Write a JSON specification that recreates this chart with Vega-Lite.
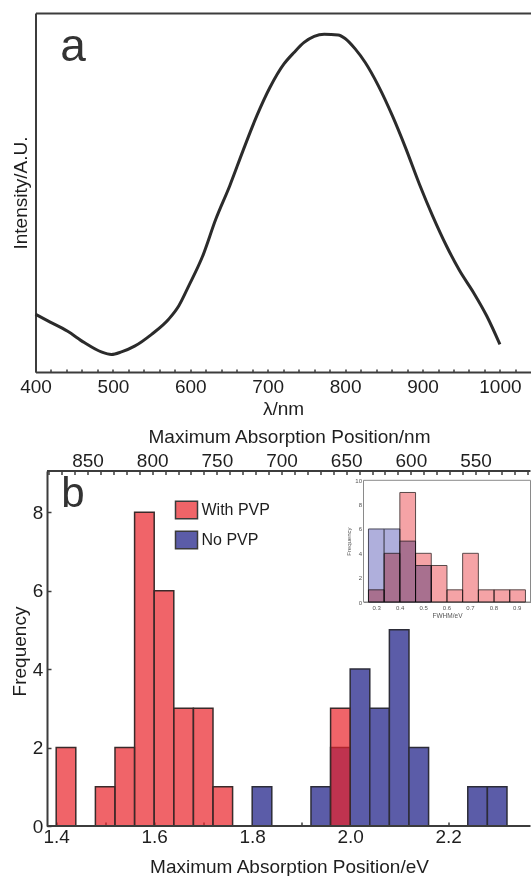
{
  "$schema": "https://vega.github.io/schema/vega-lite/v6.json",
  "padding": {"left": 10.5, "top": 13, "right": 0, "bottom": 0},
  "background": "white",
  "config": {
    "font": "Liberation Sans",
    "view": {"stroke": null},
    "axis": {"grid": false, "domainColor": "#3c3c3c", "domainWidth": 2, "tickColor": "#3c3c3c", "tickWidth": 1.5, "labelColor": "#1e1e1e", "titleColor": "#1e1e1e", "titleFontWeight": "normal", "labelFontSize": 19, "titleFontSize": 19, "labelFlush": false, "labelOverlap": false, "labelFont": "Liberation Sans", "titleFont": "Liberation Sans"}
  },
  "datasets": {
    "spectrum": [
      {"wavelength": 400, "intensity": 0.161}, {"wavelength": 419, "intensity": 0.139}, {"wavelength": 441, "intensity": 0.114},
      {"wavelength": 463, "intensity": 0.082}, {"wavelength": 485, "intensity": 0.056}, {"wavelength": 498, "intensity": 0.049},
      {"wavelength": 511, "intensity": 0.056}, {"wavelength": 528, "intensity": 0.072}, {"wavelength": 550, "intensity": 0.105},
      {"wavelength": 572, "intensity": 0.147}, {"wavelength": 585, "intensity": 0.184}, {"wavelength": 598, "intensity": 0.240},
      {"wavelength": 616, "intensity": 0.323}, {"wavelength": 633, "intensity": 0.426}, {"wavelength": 651, "intensity": 0.519},
      {"wavelength": 668, "intensity": 0.616}, {"wavelength": 686, "intensity": 0.714}, {"wavelength": 703, "intensity": 0.793},
      {"wavelength": 721, "intensity": 0.858}, {"wavelength": 734, "intensity": 0.890}, {"wavelength": 747, "intensity": 0.918},
      {"wavelength": 760, "intensity": 0.935}, {"wavelength": 773, "intensity": 0.941}, {"wavelength": 791, "intensity": 0.939},
      {"wavelength": 800, "intensity": 0.929}, {"wavelength": 813, "intensity": 0.900}, {"wavelength": 826, "intensity": 0.862},
      {"wavelength": 843, "intensity": 0.797}, {"wavelength": 861, "intensity": 0.714}, {"wavelength": 878, "intensity": 0.625},
      {"wavelength": 896, "intensity": 0.523}, {"wavelength": 913, "intensity": 0.435}, {"wavelength": 931, "intensity": 0.351},
      {"wavelength": 948, "intensity": 0.282}, {"wavelength": 966, "intensity": 0.221}, {"wavelength": 983, "intensity": 0.156},
      {"wavelength": 1000, "intensity": 0.077}
    ],
    "peaks": [
      {"series": "With PVP", "start": 1.40, "end": 1.44, "count": 2},
      {"series": "With PVP", "start": 1.48, "end": 1.52, "count": 1},
      {"series": "With PVP", "start": 1.52, "end": 1.56, "count": 2},
      {"series": "With PVP", "start": 1.56, "end": 1.60, "count": 8},
      {"series": "With PVP", "start": 1.60, "end": 1.64, "count": 6},
      {"series": "With PVP", "start": 1.64, "end": 1.68, "count": 3},
      {"series": "With PVP", "start": 1.68, "end": 1.72, "count": 3},
      {"series": "With PVP", "start": 1.72, "end": 1.76, "count": 1},
      {"series": "With PVP", "start": 1.96, "end": 2.00, "count": 3},
      {"series": "No PVP", "start": 1.80, "end": 1.84, "count": 1},
      {"series": "No PVP", "start": 1.92, "end": 1.96, "count": 1},
      {"series": "No PVP", "start": 1.96, "end": 2.00, "count": 2},
      {"series": "No PVP", "start": 2.00, "end": 2.04, "count": 4},
      {"series": "No PVP", "start": 2.04, "end": 2.08, "count": 3},
      {"series": "No PVP", "start": 2.08, "end": 2.12, "count": 5},
      {"series": "No PVP", "start": 2.12, "end": 2.16, "count": 2},
      {"series": "No PVP", "start": 2.24, "end": 2.28, "count": 1},
      {"series": "No PVP", "start": 2.28, "end": 2.32, "count": 1}
    ],
    "fwhm": [
      {"series": "No PVP", "start": 0.267, "end": 0.334, "count": 6},
      {"series": "No PVP", "start": 0.334, "end": 0.401, "count": 6},
      {"series": "No PVP", "start": 0.401, "end": 0.468, "count": 5},
      {"series": "No PVP", "start": 0.468, "end": 0.535, "count": 3},
      {"series": "With PVP", "start": 0.267, "end": 0.334, "count": 1},
      {"series": "With PVP", "start": 0.334, "end": 0.401, "count": 4},
      {"series": "With PVP", "start": 0.401, "end": 0.468, "count": 9},
      {"series": "With PVP", "start": 0.468, "end": 0.535, "count": 4},
      {"series": "With PVP", "start": 0.535, "end": 0.602, "count": 3},
      {"series": "With PVP", "start": 0.602, "end": 0.669, "count": 1},
      {"series": "With PVP", "start": 0.669, "end": 0.736, "count": 4},
      {"series": "With PVP", "start": 0.736, "end": 0.803, "count": 1},
      {"series": "With PVP", "start": 0.803, "end": 0.870, "count": 1},
      {"series": "With PVP", "start": 0.870, "end": 0.937, "count": 1}
    ]
  },
  "columns": 1,
  "spacing": 8,
  "resolve": {"scale": {"color": "independent"}, "legend": {"color": "independent"}},
  "concat": [
    {
      "width": 495,
      "height": 359,
      "layer": [
        {
          "data": {"name": "spectrum"},
          "mark": {"type": "line", "color": "#2b2b2b", "strokeWidth": 3, "interpolate": "monotone"},
          "encoding": {
            "x": {"field": "wavelength", "type": "quantitative", "scale": {"domain": [400, 1039.5], "nice": false, "zero": false},
              "axis": {"orient": "bottom", "title": "λ/nm", "format": "d", "values": [400,420,440,460,480,500,520,540,560,580,600,620,640,660,680,700,720,740,760,780,800,820,840,860,880,900,920,940,960,980,1000,1020],
                "labelExpr": "datum.value % 100 === 0 ? datum.label : ''", "tickSize": -3, "labelPadding": 8.3, "titlePadding": 3.4}},
            "y": {"field": "intensity", "type": "quantitative", "scale": {"domain": [0, 1], "nice": false},
              "axis": {"orient": "left", "title": "Intensity/A.U.", "labels": false, "ticks": false, "titlePadding": 5}}
          }
        },
        {
          "data": {"values": [{"label": "a"}]},
          "mark": {"type": "text", "fontSize": 46, "align": "center", "baseline": "alphabetic", "color": "#333333", "font": "Liberation Sans"},
          "encoding": {
            "x": {"datum": 448.4, "type": "quantitative", "axis": {"orient": "top", "labels": false, "ticks": false, "title": null, "domain": true}},
            "y": {"datum": 0.867, "type": "quantitative"},
            "text": {"field": "label"}
          }
        }
      ],
      "resolve": {"axis": {"x": "independent"}}
    },
    {
      "width": 495,
      "height": 355,
      "layer": [
        {
          "layer": [
            {
              "data": {"name": "peaks"},
              "transform": [{"filter": "datum.series === 'No PVP'"}],
              "mark": {"type": "rect", "stroke": "#2c2c38", "strokeWidth": 1.5},
              "encoding": {
                "x": {"field": "start", "type": "quantitative", "scale": {"domain": [1.35776, 2.368], "nice": false, "zero": false},
                  "axis": {"orient": "bottom", "title": "Maximum Absorption Position/eV", "titleX": 253.5, "values": [1.4,1.5,1.6,1.7,1.8,1.9,2.0,2.1,2.2,2.3], "domain": false,
                    "labelExpr": "round(datum.value * 10) % 2 === 0 ? format(datum.value, '.1f') : ''", "tickSize": -4, "labelPadding": 5.9, "titlePadding": 11}},
                "x2": {"field": "end"},
                "y": {"field": "count", "type": "quantitative", "scale": {"domain": [0, 9.05], "nice": false},
                  "axis": {"orient": "left", "offset": -11.5, "title": "Frequency", "titleY": 180, "values": [0,1,2,3,4,5,6,7,8,9], "labelExpr": "datum.value % 2 === 0 ? datum.label : ''",
                    "tickSize": -4, "labelPadding": 8.2, "titlePadding": 2.5}},
                "color": {"field": "series", "type": "nominal", "scale": {"domain": ["With PVP", "No PVP"], "range": ["#F06468", "#5B5CA8"]},
                  "legend": {"orient": "none", "legendX": 139, "legendY": 27, "title": null, "symbolType": "M-1,-0.8H1V0.8H-1Z", "symbolSize": 484,
                    "symbolStrokeColor": "#3a3a3a", "symbolStrokeWidth": 1.5, "symbolOpacity": 1, "labelFontSize": 16, "labelOffset": 3, "rowPadding": 6,
                    "padding": 0, "labelColor": "#1e1e1e", "labelFont": "Liberation Sans"}}
              }
            },
            {
              "data": {"name": "peaks"},
              "transform": [{"filter": "datum.series === 'With PVP'"}],
              "mark": {"type": "rect", "fill": "#E92229", "fillOpacity": 0.7, "stroke": "#3a2a2a", "strokeWidth": 1.5},
              "encoding": {
                "x": {"field": "start", "type": "quantitative"},
                "x2": {"field": "end"},
                "y": {"field": "count", "type": "quantitative"}
              }
            },
            {
              "data": {"values": [{"edge": "bottom", "level": 0}, {"edge": "top", "level": 9.05}]},
              "mark": {"type": "rule", "color": "#3c3c3c", "strokeWidth": 2},
              "encoding": {
                "x": {"datum": 1.3812, "type": "quantitative"},
                "x2": {"datum": 2.368},
                "y": {"field": "level", "type": "quantitative"}
              }
            },
            {
              "data": {"values": [{"label": "b"}]},
              "mark": {"type": "text", "fontSize": 42, "align": "center", "baseline": "alphabetic", "color": "#333333", "font": "Liberation Sans"},
              "encoding": {
                "x": {"datum": 1.4343, "type": "quantitative"},
                "y": {"datum": 8.13, "type": "quantitative"},
                "text": {"field": "label"}
              }
            }
          ]
        },
        {
          "data": {"values": [{"nm": 850}]},
          "mark": {"type": "point", "opacity": 0},
          "encoding": {
            "x": {"field": "nm", "type": "quantitative", "scale": {"domain": [507.5, 890.2], "reverse": true, "nice": false, "zero": false},
              "axis": {"orient": "top", "title": "Maximum Absorption Position/nm", "titleX": 253.5, "domain": false,
                "values": [510,520,530,540,550,560,570,580,590,600,610,620,630,640,650,660,670,680,690,700,710,720,730,740,750,760,770,780,790,800,810,820,830,840,850,860,870,880],
                "labelExpr": "datum.value % 50 === 0 ? datum.label : ''", "tickSize": -3.5, "labelPadding": 4, "titlePadding": 5}}
          }
        },
        {
          "layer": [
            {
              "data": {"values": [{"frame": "inset"}]},
              "mark": {"type": "rect", "fill": "white", "stroke": "#8a8a8a", "strokeWidth": 1},
              "encoding": {
                "x": {"datum": 0.2458, "type": "quantitative", "scale": {"domain": [0.2458, 0.9586], "range": [328, 495], "nice": false, "zero": false},
                  "axis": {"orient": "bottom", "offset": -224, "title": "FWHM/eV", "values": [0.3,0.4,0.5,0.6,0.7,0.8,0.9], "format": ".1f",
                    "labelFontSize": 6, "titleFontSize": 6.5, "labelColor": "#555555", "titleColor": "#555555", "domainColor": "#8a8a8a", "domainWidth": 1,
                    "tickSize": -2, "tickWidth": 0.8, "tickColor": "#777777", "labelPadding": 4, "titlePadding": 2}},
                "x2": {"datum": 0.9586},
                "y": {"datum": 0, "type": "quantitative", "scale": {"domain": [0, 10], "range": [131, 9.3], "nice": false},
                  "axis": {"orient": "left", "offset": -328, "title": "Frequency", "values": [0,2,4,6,8,10],
                    "labelFontSize": 6, "titleFontSize": 6, "labelColor": "#555555", "titleColor": "#555555", "domainColor": "#8a8a8a", "domainWidth": 1,
                    "tickSize": -2, "tickWidth": 0.8, "tickColor": "#777777", "labelPadding": 4, "titlePadding": 3}},
                "y2": {"datum": 10}
              }
            },
            {
              "data": {"name": "fwhm"},
              "transform": [{"filter": "datum.series === 'No PVP'"}],
              "mark": {"type": "rect", "fill": "#AFAFDC", "stroke": "#4a4a5a", "strokeWidth": 1},
              "encoding": {
                "x": {"field": "start", "type": "quantitative"},
                "x2": {"field": "end"},
                "y": {"field": "count", "type": "quantitative"}
              }
            },
            {
              "data": {"name": "fwhm"},
              "transform": [{"filter": "datum.series === 'With PVP'"}],
              "mark": {"type": "rect", "fill": "#F5A3A6", "blend": "multiply", "stroke": "#5a4a4a", "strokeWidth": 1},
              "encoding": {
                "x": {"field": "start", "type": "quantitative"},
                "x2": {"field": "end"},
                "y": {"field": "count", "type": "quantitative"}
              }
            }
          ]
        }
      ],
      "resolve": {"scale": {"x": "independent", "y": "independent"}}
    }
  ]
}
